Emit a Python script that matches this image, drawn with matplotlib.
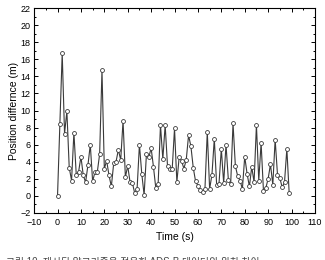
import numpy as np
import matplotlib.pyplot as plt
from matplotlib.ticker import MultipleLocator

# Time (s) and position difference (m)
time_s = list(range(100))
pos_diff = [
    0.0, 8.4, 16.7, 7.3, 9.9, 3.3, 1.8, 7.4, 2.5, 2.8,
    4.6, 2.4, 1.6, 3.6, 6.0, 1.7, 2.8, 2.8, 4.9, 14.7,
    3.2, 4.1, 2.4, 1.1, 3.8, 4.0, 5.4, 4.2, 8.8, 2.2,
    3.5, 1.6, 1.5, 0.3, 0.8, 6.0, 2.6, 0.1, 4.9, 4.5,
    5.6, 3.4, 0.9, 1.4, 8.3, 4.3, 8.3, 3.5, 3.1, 3.1,
    7.9, 1.6, 4.6, 4.1, 3.2, 4.2, 7.1, 5.8, 3.3, 1.7,
    1.2, 0.7, 0.4, 0.8, 7.5, 0.8, 2.5, 6.7, 1.3, 1.4,
    5.5, 1.5, 6.0, 1.9, 1.4, 8.5, 3.5, 2.3, 1.8, 0.8,
    4.6, 2.6, 1.1, 3.4, 1.6, 8.3, 1.8, 6.2, 0.6, 0.9,
    2.0, 3.7, 1.3, 6.6, 2.5, 2.1, 1.0, 1.6, 5.5, 0.3,
]
caption = "그림 10. 제시된 알고리즘을 적용한 ADS-B 데이터의 위치 차이"

plt.rcParams["font.family"] = ["Liberation Sans", "Noto Sans CJK KR", "DejaVu Sans"]

fig = plt.figure(figsize=(3.25, 2.6), dpi=100)
ax = fig.add_axes([0.105, 0.181, 0.864, 0.788])

ax.plot(time_s, pos_diff, color="#3a3a3a", linewidth=0.8,
        marker="o", markersize=2.8, markerfacecolor="white",
        markeredgecolor="#3a3a3a", markeredgewidth=0.6)

ax.set_xlim(-10, 110)
ax.set_ylim(-2, 22)
ax.xaxis.set_major_locator(MultipleLocator(10))
ax.xaxis.set_minor_locator(MultipleLocator(5))
ax.yaxis.set_major_locator(MultipleLocator(2))
ax.yaxis.set_minor_locator(MultipleLocator(1))
ax.tick_params(which="both", direction="in", top=True, right=True,
               labelsize=6.5, width=0.7)
ax.tick_params(axis="x", pad=3.5)
ax.tick_params(axis="y", pad=2.5)
ax.tick_params(which="major", length=3)
ax.tick_params(which="minor", length=1.6)
for s in ax.spines.values():
    s.set_linewidth(0.8)

ax.set_xlabel("Time (s)", fontsize=7.5, labelpad=4)
ax.set_ylabel("Position differnce (m)", fontsize=7.5, labelpad=1)

fig.text(0.02, -0.008, caption, fontsize=7, color="#444444", va="center")

fig.savefig("out.png", dpi=100)
